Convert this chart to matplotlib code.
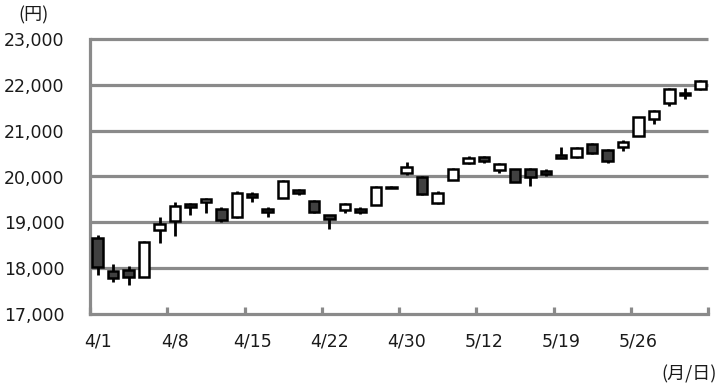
import matplotlib
matplotlib.use("Agg")
import matplotlib.pyplot as plt
import numpy as np

dates = ["4/1","4/2","4/3","4/6","4/7","4/8","4/9","4/10","4/13","4/14",
         "4/15","4/16","4/17","4/20","4/21","4/22","4/23","4/24","4/27","4/28",
         "4/30","5/1","5/7","5/8","5/11","5/12","5/13","5/14","5/15","5/18",
         "5/19","5/20","5/21","5/22","5/25","5/26","5/27","5/28","5/29","6/1"]
opens  = [18660,17930,17950,17810,18840,19030,19400,19450,19300,19120,
          19610,19300,19540,19710,19460,19160,19260,19300,19380,19780,
          20070,19990,19430,19930,20290,20420,20150,20160,20160,20130,
          20480,20420,20700,20570,20650,20890,21260,21600,21830,21900]
highs  = [18730,18090,18050,18600,19120,19440,19420,19540,19330,19690,
          19660,19335,19920,19720,19480,19165,19430,19330,19790,19800,
          20320,20010,19680,20180,20450,20450,20300,20170,20180,20170,
          20640,20640,20740,20600,20790,21300,21450,21930,21930,22100]
lows   = [17850,17700,17640,17800,18550,18700,19160,19210,19000,19100,
          19440,19120,19530,19600,19200,18860,19210,19180,19380,19740,
          20030,19590,19400,19920,20270,20300,20080,19870,19800,20000,
          20400,20400,20480,20300,20560,20880,21140,21540,21700,21890]
closes = [18030,17790,17800,18576,18960,19353,19345,19500,19043,19650,
          19550,19230,19897,19640,19230,19080,19400,19230,19780,19750,
          20210,19619,19650,20160,20400,20340,20280,19890,20000,20060,
          20400,20620,20520,20330,20760,21290,21420,21920,21780,22080]
label_dates = ["4/1","4/8","4/15","4/22","4/30","5/12","5/19","5/26"]
y_ticks = [17000,18000,19000,20000,21000,22000,23000]

fig = plt.figure(figsize=(7.2, 3.86), dpi=100)
ax = fig.add_axes([90/720, 1-314/386, (708-90)/720, (314-39)/386])

x = np.arange(len(dates))
grid_c = "#8a8a8a"
for yv in y_ticks[1:]:
    ax.axhline(yv, color=grid_c, lw=2.3, zorder=1, clip_on=False,
               solid_capstyle="butt")

o = np.array(opens); c = np.array(closes)
h = np.array(highs); l = np.array(lows)
up = c >= o
ax.vlines(x, l, h, color="black", lw=2.0, zorder=2)
bottoms = np.minimum(o, c)
heights = np.maximum(np.abs(c - o), 25)
fills = ["white" if u else "#404040" for u in up]
ax.bar(x, heights, bottom=bottoms, width=0.68, color=fills,
       edgecolor="black", linewidth=1.8, zorder=3)

ax.set_xlim(-0.5, len(dates) - 0.5)
ax.set_ylim(17000, 23000)

for s in ["top", "right"]:
    ax.spines[s].set_visible(False)
for s in ["left", "bottom"]:
    ax.spines[s].set_color(grid_c)
    ax.spines[s].set_linewidth(2.3)

ax.set_yticks(y_ticks)
ax.set_yticklabels([f"{v:,}" for v in y_ticks], fontsize=12.5, color="#1a1a1a")
ax.tick_params(axis="y", length=0, pad=18.5)

ax.set_xticks(np.arange(-0.5, len(dates), 5))
ax.set_xticklabels([])
ax.tick_params(axis="x", which="major", direction="in", length=5,
               width=2.3, color=grid_c)
pos = [dates.index(d) for d in label_dates]
ax.set_xticks(pos, minor=True)
ax.set_xticklabels(label_dates, minor=True, fontsize=12.5, color="#1a1a1a")
ax.tick_params(axis="x", which="minor", length=0, pad=13)

cjk = ["Noto Sans CJK JP", "DejaVu Sans"]
fig.text(33/720, 1-15/386, "(円)", fontsize=13, family=cjk,
         ha="center", va="center", color="#1a1a1a")
fig.text(689/720, 1-374/386, "(月/日)", fontsize=13, family=cjk,
         ha="center", va="center", color="#1a1a1a")

fig.savefig("out.png", dpi=100)
